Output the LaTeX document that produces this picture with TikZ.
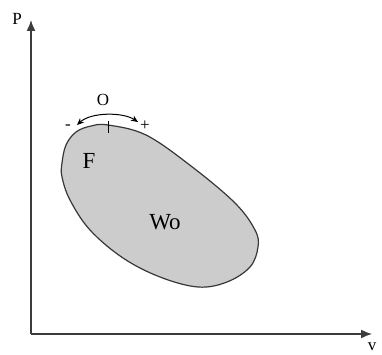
\documentclass[tikz,border=0pt]{standalone}
\usepackage{fontspec}
\setmainfont{Liberation Serif}
\usetikzlibrary{arrows.meta}
\definecolor{axisgrey}{RGB}{60,60,60}
\definecolor{cyclefill}{RGB}{204,204,204}
\definecolor{cycleline}{RGB}{55,55,55}
\tikzset{
  axis/.style={-{Latex[length=11pt,width=9pt]}, line width=1.5pt, draw=axisgrey},
  loop/.style={fill=cyclefill, draw=cycleline, line width=1.2pt},
  turn/.style={{Stealth[length=7pt,width=6pt]}-{Stealth[length=7pt,width=6pt]}, line width=1pt, draw=black},
  lbl/.style={inner sep=0pt, text=black},
  big/.style={lbl, font=\fontsize{23}{25}\selectfont},
  small/.style={lbl, font=\fontsize{17}{19}\selectfont},
}
\begin{document}
\begin{tikzpicture}[x=1pt,y=1pt]
  \useasboundingbox (-31,-20) rectangle (351,334);
  % axes
  \coordinate (orig) at (0,0);
  \coordinate (ptop) at (0,314);
  \coordinate (vend) at (341,0);
  \draw[axis] (orig) -- (ptop);
  \draw[axis] (orig) -- (vend);
  \node[small] (plbl) at (-14,315) {P};
  \node[small] (vlbl) at (341,-13) {v};
  % closed cycle
  \draw[loop] plot[smooth cycle, tension=0.6] coordinates {
    (31,171) (35,189) (45,202) (60,208) (77,209) (115,199) (160,168) (204,131)
    (224,104) (227,87) (219,67) (196,52) (167,47) (129,57) (92,76)
    (59,104) (39,134) (31,157)};
  % operating point and direction
  \coordinate (tickb) at (77,201);
  \coordinate (ticka) at (77,213);
  \draw[line width=1pt] (tickb) -- (ticka);
  \coordinate (arcl) at (46,209);
  \coordinate (arcr) at (107,212);
  \draw[turn] (arcl) .. controls (60,222) and (92,222) .. (arcr);
  \node[small] (minus) at (37,207) {-};
  \node[small] (plus) at (114,208) {+};
  \node[small] (olbl) at (72,234) {O};
  \node[big] (flbl) at (58,173) {F};
  \node[big] (wlbl) at (134,112) {Wo};
\end{tikzpicture}
\end{document}
